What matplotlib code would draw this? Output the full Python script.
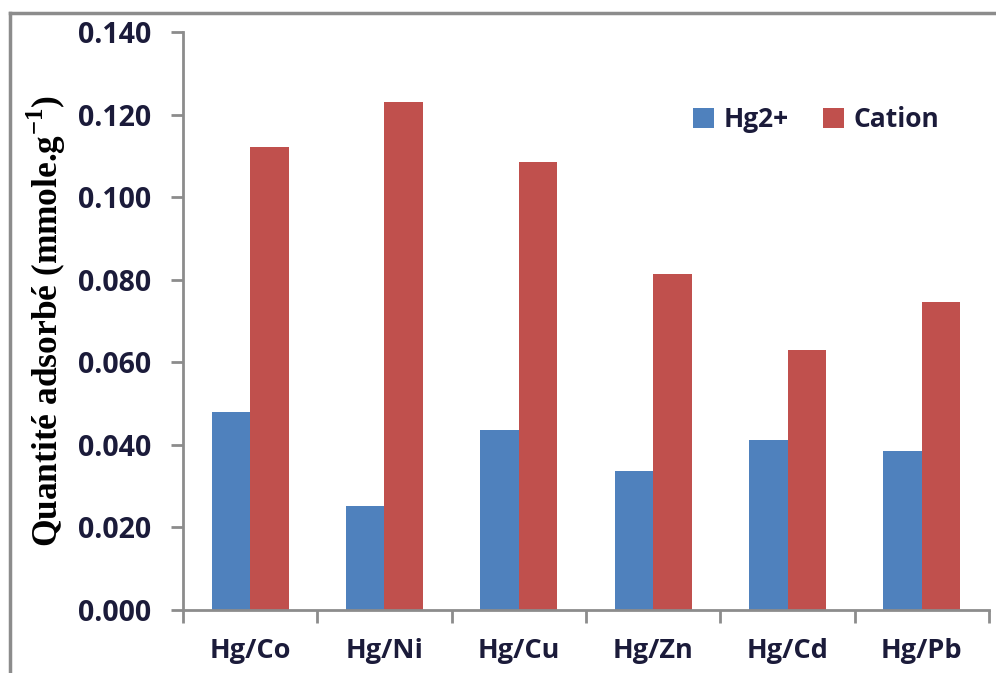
import matplotlib
matplotlib.use("Agg")
import matplotlib.pyplot as plt
import numpy as np

categories = ["Hg/Co", "Hg/Ni", "Hg/Cu", "Hg/Zn", "Hg/Cd", "Hg/Pb"]
hg2_values = [0.048, 0.0252, 0.0436, 0.0337, 0.0412, 0.0385]
cation_values = [0.1121, 0.1230, 0.1085, 0.0814, 0.0630, 0.0746]
y_ticks = [0.000, 0.020, 0.040, 0.060, 0.080, 0.100, 0.120, 0.140]

blue = "#4F81BD"
red = "#C0504D"
axis_gray = "#8C8C8C"
text_col = "#1B1B3A"
sans = ["Open Sans", "DejaVu Sans"]

plt.rcParams["mathtext.fontset"] = "custom"
plt.rcParams["mathtext.rm"] = "Liberation Serif"
plt.rcParams["mathtext.bf"] = "Liberation Serif:bold"

fig = plt.figure(figsize=(9.96, 6.73), dpi=100)
ax = fig.add_axes([0.1837, 0.0936, 0.8093, 0.8589])

x = np.arange(len(categories))
width = 0.287
ax.bar(x - width / 2, hg2_values, width, color=blue, label="Hg2+")
ax.bar(x + width / 2, cation_values, width, color=red, label="Cation")

ax.set_xlim(-0.5, len(categories) - 0.5)
ax.set_ylim(0, 0.140)
ax.set_yticks(y_ticks)
ax.set_yticklabels([f"{v:.3f}" for v in y_ticks], fontsize=20.5,
                   fontweight="bold", family=sans, color=text_col)

# category labels centred, ticks at the boundaries
ax.set_xticks(x)
ax.set_xticklabels(categories, fontsize=19.5, fontweight="bold",
                   family=sans, color=text_col)
ax.tick_params(axis="x", length=0, pad=20)
ax.set_xticks(np.arange(-0.5, len(categories)), minor=True)
ax.tick_params(axis="x", which="minor", length=9, width=2, color=axis_gray)
ax.tick_params(axis="y", length=9, width=2, color=axis_gray, pad=14)

for side in ["top", "right"]:
    ax.spines[side].set_visible(False)
for side in ["left", "bottom"]:
    ax.spines[side].set_color(axis_gray)
    ax.spines[side].set_linewidth(2)

ax.set_ylabel("Quantité adsorbé (mmole.g$^{\\mathbf{-1}}$)", family="Liberation Serif",
              fontsize=25.5, fontweight="bold", labelpad=7)

ax.legend(loc="center left", bbox_to_anchor=(0.62, 0.848), ncol=2, frameon=False,
          prop={"family": sans, "weight": "bold", "size": 19},
          handlelength=0.8, handleheight=0.8, handletextpad=0.35,
          columnspacing=1.3, borderaxespad=0)
for t in ax.get_legend().get_texts():
    t.set_color(text_col)

# outer chart frame (top and left edges visible)
fig.add_artist(plt.Line2D([0.010, 1.0], [0.981, 0.981], color="#8C8C8C", lw=2.5,
                          transform=fig.transFigure))
fig.add_artist(plt.Line2D([0.010, 0.010], [0.0, 0.981], color="#8C8C8C", lw=2.5,
                          transform=fig.transFigure))

fig.savefig("out.png", dpi=100)
